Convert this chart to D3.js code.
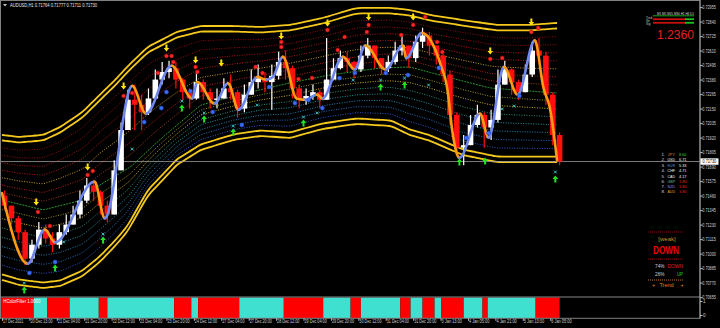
<!DOCTYPE html>
<html>
<head>
<meta charset="utf-8">
<script src="https://cdn.jsdelivr.net/npm/d3@7"></script>
<style>
html, body { margin: 0; padding: 0; background: #000; }
svg { display: block; font-family: "Liberation Sans", "DejaVu Sans", sans-serif; }
</style>
</head>
<body>
<div id="chart"></div>
<script>
// AUDUSD H1, each drawn candle = 4 H1 bars
const candleStep = 4;
const firstOpen = 0.7146;
const closes = [0.7138,0.7128,0.7117,0.7096,0.7107,0.7119,0.7112,0.7107,0.7117,0.7123,
  0.7131,0.7142,0.7154,0.7149,0.7138,0.7131,0.7166,0.7198,0.7222,0.7218,
  0.7212,0.7223,0.7238,0.7244,0.7247,0.7238,0.7228,0.7223,0.7236,0.7228,
  0.7222,0.7223,0.7231,0.7228,0.7215,0.7226,0.7236,0.7239,0.7236,0.7241,
  0.7252,0.7247,0.7231,0.7223,0.7225,0.7228,0.7222,0.7238,0.7247,0.7255,
  0.7252,0.7246,0.7257,0.7265,0.7255,0.7247,0.7252,0.7261,0.7265,0.7255,
  0.7268,0.7273,0.7265,0.7257,0.7242,0.7210,0.7184,0.7186,0.7202,0.7210,
  0.7200,0.7206,0.7234,0.7246,0.7236,0.7228,0.7242,0.7261,0.7257,0.7226,
  0.7194,0.7173];
const highs = [0.7150,0.7138,0.7130,0.7119,0.7111,0.7125,0.7123,0.7117,0.7123,0.7131,
  0.7138,0.7150,0.7160,0.7158,0.7150,0.7142,0.7174,0.7204,0.7230,0.7234,
  0.7226,0.7231,0.7246,0.7252,0.7253,0.7252,0.7239,0.7231,0.7244,0.7238,
  0.7231,0.7231,0.7239,0.7242,0.7230,0.7234,0.7246,0.7250,0.7244,0.7250,
  0.7260,0.7261,0.7249,0.7234,0.7231,0.7234,0.7230,0.7271,0.7255,0.7261,
  0.7260,0.7253,0.7265,0.7271,0.7265,0.7255,0.7257,0.7268,0.7273,0.7265,
  0.7273,0.7279,0.7276,0.7265,0.7259,0.7245,0.7212,0.7194,0.7210,0.7218,
  0.7212,0.7214,0.7246,0.7253,0.7247,0.7238,0.7250,0.7268,0.7271,0.7260,
  0.7228,0.7196];
const lows = [0.7135,0.7123,0.7111,0.7091,0.7093,0.7104,0.7108,0.7101,0.7104,0.7115,
  0.7123,0.7128,0.7140,0.7142,0.7131,0.7125,0.7131,0.7166,0.7198,0.7198,
  0.7198,0.7210,0.7222,0.7234,0.7239,0.7231,0.7222,0.7215,0.7222,0.7222,
  0.7215,0.7215,0.7223,0.7222,0.7208,0.7212,0.7226,0.7231,0.7228,0.7214,
  0.7238,0.7238,0.7223,0.7215,0.7218,0.7222,0.7215,0.7222,0.7238,0.7246,
  0.7244,0.7239,0.7244,0.7255,0.7247,0.7242,0.7244,0.7250,0.7257,0.7247,
  0.7252,0.7263,0.7257,0.7250,0.7236,0.7202,0.7178,0.7170,0.7186,0.7200,
  0.7184,0.7190,0.7204,0.7234,0.7226,0.7222,0.7228,0.7240,0.7252,0.7218,
  0.7186,0.7170];
const lastPrice = 0.71730;

// smoothed trend line (swing points)
const trendBars = [0,15,25,31,54,60,76,84,99,111,114,124,132,138,149,154,158,164,172,177,
  184,187,199,206,212,224,234,236,245,256,260,263,267,279,284,293,301,311,316,320,324];
const trendPrices = [0.7148,0.7092,0.7119,0.7109,0.7157,0.7128,0.7233,0.7211,0.7249,0.7223,
  0.7236,0.7219,0.7235,0.7214,0.7240,0.7238,0.7240,0.7256,0.7223,0.7222,
  0.7226,0.7223,0.7256,0.7246,0.7265,0.7246,0.7265,0.7255,0.7275,0.7250,
  0.7230,0.7196,0.7176,0.7211,0.7192,0.7248,0.7226,0.7269,0.7232,0.7214,0.7174];

// channel
const bandBars = [0,10,24,34,47,57,66,73,85,102,116,135,151,168,187,207,227,238,250,269,289,308,324];
const upperBand = [0.71941,0.71925,0.71941,0.72004,0.72123,0.72258,0.72377,0.72480,0.72638,0.72757,
  0.72805,0.72805,0.72797,0.72813,0.72868,0.72948,0.72948,0.72932,0.72892,0.72852,0.72813,0.72813,0.72829];
const lowerBand = [0.70791,0.70751,0.70727,0.70743,0.70822,0.70933,0.71060,0.71171,0.71457,0.71703,
  0.71822,0.71901,0.71933,0.71917,0.71988,0.72028,0.72012,0.71941,0.71893,0.71782,0.71726,0.71726,0.71726];
const midBars = [0,24,47,57,75,92,116,145,168,191,221,238,260,285,324];
const midLine = [0.71425,0.71346,0.71425,0.71544,0.71687,0.71901,0.72178,0.72281,0.72353,0.72416,
  0.72472,0.72480,0.72400,0.72313,0.72273];

// signals
const sellBars = [20,50,71,96,113,128,163,190,214,240,285,309];
const sellPrices = [0.71409,0.71687,0.72329,0.72630,0.72535,0.72511,0.72725,0.72829,0.72876,0.72876,0.72607,0.72837];
const buyBars = [13,31,59,105,118,135,176,221,235,267,282,323];
const buyPrices = [0.70711,0.70885,0.71108,0.72154,0.72067,0.71964,0.72035,0.72321,0.72337,0.71726,0.71734,0.71591];
const redBars = [21,28,50,53,71,76,91,96,99,100,113,114,148,152,163,163,173,181,190,200,
  196,214,213,233,240,247,254,257,285,292,309,313];
const redPrices = [0.71330,0.71219,0.71623,0.71655,0.72250,0.72273,0.72432,0.72567,0.72567,0.72519,
  0.72480,0.72440,0.72480,0.72432,0.72678,0.72638,0.72384,0.72392,0.72773,0.72718,
  0.72614,0.72813,0.72757,0.72733,0.72813,0.72876,0.72678,0.72599,0.72543,0.72551,0.72757,0.72789];
const blueBars = [16,31,83,93,96,110,123,140,156,171,179,187,197,206,224,237,255,271,284,302];
const bluePrices = [0.70846,0.70933,0.72043,0.72154,0.72281,0.72289,0.72123,0.72020,0.72321,0.72194,
  0.72218,0.72154,0.72392,0.72432,0.72432,0.72416,0.72472,0.71917,0.71956,0.72250];
const cyanBars = [13,36,59,76,105,118,135,149,176,184,205,221,235,249,292,299,323];
const cyanPrices = [0.70767,0.71092,0.71155,0.71829,0.72210,0.72115,0.72012,0.72178,0.72083,0.72115,
  0.72376,0.72376,0.72392,0.72337,0.72147,0.72170,0.71647];

// HColorFilter sub window
const filterStarts = [0,19,27,40,57,62,101,111,115,139,165,188,204,210,233,239,246,253,257,270,281,284,312];
const filterStates = ["dn","up","dn","up","dn","up","dn","up","dn","up","dn","up","dn","up","dn","up","dn","up","dn","up","dn","up","dn"];
const filterEnd = 326;

// axes
const yTicks = [0.72955,0.72840,0.72725,0.72610,0.72495,0.72380,0.72265,0.72150,0.72035,0.71920,0.71805,
  0.71690,0.71575,0.71460,0.71345,0.71230,0.71115,0.71000,0.70885,0.70770,0.70655];
const dateLabels = ["17 Dec 2021","20 Dec 13:00","21 Dec 04:00","21 Dec 20:00","22 Dec 12:00","23 Dec 04:00",
  "23 Dec 20:00","24 Dec 12:00","27 Dec 04:00","27 Dec 20:00","28 Dec 12:00","29 Dec 04:00","29 Dec 20:00",
  "30 Dec 12:00","31 Dec 04:00","31 Dec 20:00","3 Jan 13:00","4 Jan 05:00","4 Jan 21:00","5 Jan 13:00","6 Jan 05:00"];
const dateStep = 16;

// right panel
const currencies = ["JPY","USD","EUR","CHF","CAD","GBP","NZD","AUD"];
const strengths = [8.60,6.71,5.33,4.71,4.17,1.80,1.80,1.80];
const pairValue = "1.2360";
const downPct = 74, upPct = 26;

const W = 720, H = 328;
const svg = d3.select("#chart").append("svg").attr("width", W).attr("height", H);
svg.append("rect").attr("width", W).attr("height", H).attr("fill", "#000");

const x = d3.scaleLinear().domain([0, 320]).range([2, 550.2]);
const y = d3.scaleLinear().domain([0.70655, 0.72955]).range([297.1, 7.06]);

svg.append("clipPath").attr("id", "main").append("rect")
  .attr("x", 1).attr("y", 1).attr("width", 699).attr("height", 295.5);
const g = svg.append("g").attr("clip-path", "url(#main)");

// channel lines
const upAt = d3.scaleLinear().domain(bandBars).range(upperBand);
const lowAt = d3.scaleLinear().domain(bandBars).range(lowerBand);
const midAt = d3.scaleLinear().domain(midBars).range(midLine);
const samp = d3.range(0, 324.1, 2);
const smooth = d3.line().curve(d3.curveBasis);
const gap = 5.5;

const topColors = ["#8a0e0e","#9a1111","#aa1515","#b81a1a","#d0a020","#b82020","#a03a18"];
const botColors = ["#a09420","#d0b224","#289080","#2394a4","#2284b6","#246ec2","#2f58d0"];
for (let k = 1; k <= 7; k++) {
  const f = k / 8;
  g.append("path").attr("fill", "none").attr("stroke", topColors[k - 1])
    .attr("stroke-width", 1).attr("stroke-dasharray", "1,1.5")
    .attr("d", smooth(samp.map(b => {
      const a = y(upAt(b)) + gap, m = y(midAt(b));
      return [x(b), a + f * (m - a)];
    })));
  g.append("path").attr("fill", "none").attr("stroke", botColors[k - 1])
    .attr("stroke-width", 1).attr("stroke-dasharray", "1,1.5")
    .attr("d", smooth(samp.map(b => {
      const m = y(midAt(b)), c = y(lowAt(b)) - gap;
      return [x(b), m + f * (c - m)];
    })));
}
g.append("path").attr("fill", "none").attr("stroke", "#2f9a2f").attr("stroke-width", 1)
  .attr("stroke-dasharray", "2,1")
  .attr("d", smooth(samp.map(b => [x(b), y(midAt(b))])));

// yellow bands
[[upAt, 0], [upAt, gap], [lowAt, 0], [lowAt, -gap]].forEach(([fn, off]) => {
  g.append("path").attr("fill", "none").attr("stroke", "#f5c91c").attr("stroke-width", 1.8)
    .attr("d", smooth(samp.map(b => [x(b), y(fn(b)) + off])));
});

// last price line
g.append("line").attr("x1", 0).attr("x2", 700).attr("y1", y(lastPrice)).attr("y2", y(lastPrice))
  .attr("stroke", "#9a9a9a").attr("stroke-width", 0.8);

// candles
const candles = closes.map((c, i) => ({
  bar: i * candleStep + 1.5,
  open: i === 0 ? firstOpen : closes[i - 1],
  close: c, high: highs[i], low: lows[i]
}));
const cg = g.append("g");
cg.selectAll("line").data(candles).join("line")
  .attr("x1", d => x(d.bar)).attr("x2", d => x(d.bar))
  .attr("y1", d => y(d.high)).attr("y2", d => y(d.low))
  .attr("stroke", d => d.close >= d.open ? "#ffffff" : "#ff1010").attr("stroke-width", 1.2);
cg.selectAll("rect").data(candles).join("rect")
  .attr("x", d => x(d.bar) - 2.8).attr("width", 5.6)
  .attr("y", d => y(Math.max(d.open, d.close)))
  .attr("height", d => Math.max(1.5, Math.abs(y(d.open) - y(d.close))))
  .attr("fill", d => d.close >= d.open ? "#ffffff" : "#ff1010");

// trend line, blue while rising, orange while falling
const trendGen = d3.line().x(d => x(d[0])).y(d => y(d[1])).curve(d3.curveMonotoneX);
const hidden = g.append("path").attr("fill", "none").attr("stroke", "none")
  .attr("d", trendGen(trendBars.map((b, i) => [b, trendPrices[i]])));
const node = hidden.node();
const total = node.getTotalLength();
const pts = d3.range(0, total, 0.8).map(l => node.getPointAtLength(l));
pts.push(node.getPointAtLength(total));
let runs = [], cur = null, dir = "dn";
for (let i = 1; i < pts.length; i++) {
  const dy = pts[i].y - pts[i - 1].y;
  if (dy < -0.05) dir = "up"; else if (dy > 0.05) dir = "dn";
  if (!cur || cur.dir !== dir) {
    cur = { dir, pts: [[pts[i - 1].x, pts[i - 1].y]] };
    runs.push(cur);
  }
  cur.pts.push([pts[i].x, pts[i].y]);
}
const plain = d3.line();
g.selectAll("path.trend").data(runs).join("path").attr("class", "trend")
  .attr("fill", "none").attr("stroke-width", 2.6).attr("stroke-linecap", "round")
  .attr("stroke", d => d.dir === "up" ? "#7088ee" : "#ff9a12")
  .attr("d", d => plain(d.pts));

// markers
const arrowDown = "M-1,-3.5L1,-3.5L1,0L2.8,0L0,3.5L-2.8,0L-1,0Z";
const arrowUp = "M-1,3.5L1,3.5L1,0L2.8,0L0,-3.5L-2.8,0L-1,0Z";
g.selectAll("path.sell").data(sellBars).join("path").attr("class", "sell")
  .attr("d", arrowDown).attr("fill", "#ffe400")
  .attr("transform", (b, i) => `translate(${x(b)},${y(sellPrices[i])})`);
g.selectAll("path.buy").data(buyBars).join("path").attr("class", "buy")
  .attr("d", arrowUp).attr("fill", "#1ee61e")
  .attr("transform", (b, i) => `translate(${x(b)},${y(buyPrices[i])})`);
g.selectAll("circle.red").data(redBars).join("circle").attr("class", "red")
  .attr("cx", b => x(b)).attr("cy", (b, i) => y(redPrices[i])).attr("r", 2)
  .attr("fill", "#ff2a2a").attr("stroke", "#a00000").attr("stroke-width", 0.5);
g.selectAll("circle.blue").data(blueBars).join("circle").attr("class", "blue")
  .attr("cx", b => x(b)).attr("cy", (b, i) => y(bluePrices[i])).attr("r", 2.1)
  .attr("fill", "#3a6cff").attr("stroke", "#1d3fae").attr("stroke-width", 0.5);
g.selectAll("path.cyan").data(cyanBars).join("path").attr("class", "cyan")
  .attr("d", "M-1.4,-1.4L1.4,1.4M-1.4,1.4L1.4,-1.4").attr("stroke", "#3ec8c8").attr("stroke-width", 1)
  .attr("transform", (b, i) => `translate(${x(b)},${y(cyanPrices[i])})`);

// sub window
const sub = svg.append("g");
sub.selectAll("rect").data(filterStarts).join("rect")
  .attr("x", (s) => x(s - 0.5))
  .attr("width", (s, i) => x((i + 1 < filterStarts.length ? filterStarts[i + 1] : filterEnd) - 0.5) - x(s - 0.5))
  .attr("y", 297.5).attr("height", 20.5)
  .attr("fill", (s, i) => filterStates[i] === "dn" ? "#ff0000" : "#40e0d0");
sub.append("text").attr("x", 3.3).attr("y", 302.6).attr("font-size", 4.6).attr("fill", "#fff")
  .attr("textLength", 37).attr("lengthAdjust", "spacingAndGlyphs").text("HColorFilter 1.0000");

// frames
svg.append("rect").attr("x", 0.5).attr("y", 0.5).attr("width", 699.5).attr("height", 317.8)
  .attr("fill", "none").attr("stroke", "#808080").attr("stroke-width", 1);
svg.append("line").attr("x1", 0).attr("x2", 700).attr("y1", 297).attr("y2", 297)
  .attr("stroke", "#8a8a8a").attr("stroke-width", 1.2);

// y axis
const yAxis = svg.append("g").attr("transform", "translate(700,0)")
  .call(d3.axisRight(y).tickValues(yTicks).tickSize(2.5).tickFormat(d3.format(".5f")));
yAxis.select(".domain").remove();
yAxis.selectAll("line").attr("stroke", "#bbb");
yAxis.selectAll("text").attr("x", 2.3).attr("dy", "0.35em").attr("fill", "#d0d0d0")
  .attr("font-size", 4.6).attr("font-family", "Liberation Sans, sans-serif")
  .attr("textLength", 13.6).attr("lengthAdjust", "spacingAndGlyphs");
svg.append("line").attr("x1", 700).attr("x2", 700).attr("y1", 0).attr("y2", 318.5)
  .attr("stroke", "#9a9a9a").attr("stroke-width", 1);

// last price tag
svg.append("rect").attr("x", 700.5).attr("y", y(lastPrice) - 3.2).attr("width", 18).attr("height", 6.4)
  .attr("fill", "#fff");
svg.append("text").attr("x", 702.5).attr("y", y(lastPrice) + 1.7).attr("font-size", 4.6).attr("fill", "#000")
  .attr("textLength", 13.6).attr("lengthAdjust", "spacingAndGlyphs").text(d3.format(".5f")(lastPrice));

// sub window scale
[["1", 301.5], ["0", 315.5]].forEach(([t, yy]) => {
  svg.append("text").attr("x", 703).attr("y", yy + 1.6).attr("font-size", 4.6).attr("fill", "#d0d0d0").text(t);
  svg.append("line").attr("x1", 700).attr("x2", 702.5).attr("y1", yy).attr("y2", yy).attr("stroke", "#bbb");
});

// x axis
const xAxis = svg.append("g").attr("transform", "translate(0,318.3)")
  .call(d3.axisBottom(x).tickValues(dateLabels.map((d, i) => i * dateStep))
    .tickSize(2.5).tickFormat((d, i) => dateLabels[i]));
xAxis.select(".domain").remove();
xAxis.selectAll("line").attr("stroke", "#bbb");
xAxis.selectAll("text").attr("text-anchor", "start").attr("x", 0.5).attr("y", 1.2).attr("dy", "0.71em")
  .attr("fill", "#d0d0d0").attr("font-size", 4.8).attr("font-family", "Liberation Sans, sans-serif")
  .attr("textLength", function () { return this.textContent.length * 1.85; })
  .attr("lengthAdjust", "spacingAndGlyphs");

// title
svg.append("path").attr("d", "M3,4L7,4L5,6.5Z").attr("fill", "#c0c0c0");
svg.append("text").attr("x", 10).attr("y", 6.6).attr("font-size", 4.6).attr("fill", "#e8e8e8")
  .attr("textLength", 87).attr("lengthAdjust", "spacingAndGlyphs")
  .text("AUDUSD,H1  0.71764 0.71777 0.71711 0.71730");

// top right mini table
const mt = svg.append("g");
mt.append("text").attr("x", 657).attr("y", 14.6).attr("font-size", 3.2).attr("fill", "#ddd")
  .attr("textLength", 37).attr("lengthAdjust", "spacingAndGlyphs").text("M1 M5 M15 M30 H1 H4 D1");
mt.append("line").attr("x1", 653).attr("x2", 694).attr("y1", 15.8).attr("y2", 15.8).attr("stroke", "#1fb51f").attr("stroke-width", 0.9);
[19.2, 22.8].forEach(yy => {
  mt.append("line").attr("x1", 653).attr("x2", 685).attr("y1", yy).attr("y2", yy).attr("stroke", "#c81010").attr("stroke-width", 1.8);
  mt.append("line").attr("x1", 685).attr("x2", 694).attr("y1", yy).attr("y2", yy).attr("stroke", "#1fc01f").attr("stroke-width", 1.8);
});
[["Trnd", 17.5], ["Str", 20.8], ["Sig", 24.4]].forEach(([t, yy]) => {
  mt.append("text").attr("x", 646).attr("y", yy + 1).attr("font-size", 3).attr("fill", "#ccc").text(t);
});
svg.append("text").attr("x", 657).attr("y", 39.3).attr("font-size", 12).attr("fill", "#e62020")
  .attr("textLength", 37).attr("lengthAdjust", "spacingAndGlyphs").text(pairValue);

// currency strength
const nameColors = ["#d2782a","#f0f0f0","#4f8fd8","#f0f0f0","#f0f0f0","#5fbf8f","#9a86e0","#e0a020"];
const rowY = [154, 159.6, 165.2, 170.8, 176, 181, 186, 191];
currencies.forEach((c, i) => {
  const yy = rowY[i] + 1.6;
  svg.append("text").attr("x", 661.5).attr("y", yy).attr("font-size", 4.4).attr("fill", "#d8d8d8").text((i + 1) + ".");
  svg.append("text").attr("x", 667.5).attr("y", yy).attr("font-size", 4.4).attr("fill", nameColors[i])
    .attr("textLength", 7.5).attr("lengthAdjust", "spacingAndGlyphs").text(c);
  svg.append("text").attr("x", 679).attr("y", yy).attr("font-size", 4.4)
    .attr("fill", strengths[i] > 8 ? "#2fd02f" : strengths[i] < 3 ? "#e02020" : "#f0f0f0")
    .attr("textLength", 7.5).attr("lengthAdjust", "spacingAndGlyphs").text(strengths[i].toFixed(2));
});

// trend box
const dash = (yy, col) => svg.append("line").attr("x1", 648).attr("x2", 683).attr("y1", yy).attr("y2", yy)
  .attr("stroke", col).attr("stroke-width", 0.9).attr("stroke-dasharray", "1,1");
dash(232, "#b00000");
svg.append("text").attr("x", 667).attr("y", 241.2).attr("text-anchor", "middle").attr("font-size", 6)
  .attr("fill", "#cf8a30").text("[weak]");
svg.append("text").attr("x", 666).attr("y", 254.3).attr("text-anchor", "middle").attr("font-size", 11)
  .attr("font-weight", "bold").attr("fill", "#e80000")
  .attr("textLength", 26).attr("lengthAdjust", "spacingAndGlyphs").text("DOWN");
dash(259, "#b00000");
const fit = (sel, len) => sel.attr("textLength", len).attr("lengthAdjust", "spacingAndGlyphs");
fit(svg.append("text").attr("x", 655).attr("y", 267.8).attr("font-size", 5.5).attr("fill", "#d0d0d0").text(downPct + "%"), 9.5);
fit(svg.append("text").attr("x", 667.5).attr("y", 267.8).attr("font-size", 5.5).attr("fill", "#e02020").text("DOWN"), 15.5);
fit(svg.append("text").attr("x", 655).attr("y", 275.8).attr("font-size", 5.5).attr("fill", "#d0d0d0").text(upPct + "%"), 9.5);
fit(svg.append("text").attr("x", 677).attr("y", 275.8).attr("font-size", 5.5).attr("fill", "#1ed01e").text("UP"), 6);
dash(280, "#d07a20");
svg.append("text").attr("x", 652).attr("y", 286.8).attr("font-size", 5.5).attr("fill", "#e08020").text("+");
svg.append("text").attr("x", 666.5).attr("y", 286.8).attr("text-anchor", "middle").attr("font-size", 5.5).attr("fill", "#e08020").text("Trend");
svg.append("text").attr("x", 680.5).attr("y", 286.8).attr("font-size", 5.5).attr("fill", "#e08020").text("+");
</script>
</body>
</html>
